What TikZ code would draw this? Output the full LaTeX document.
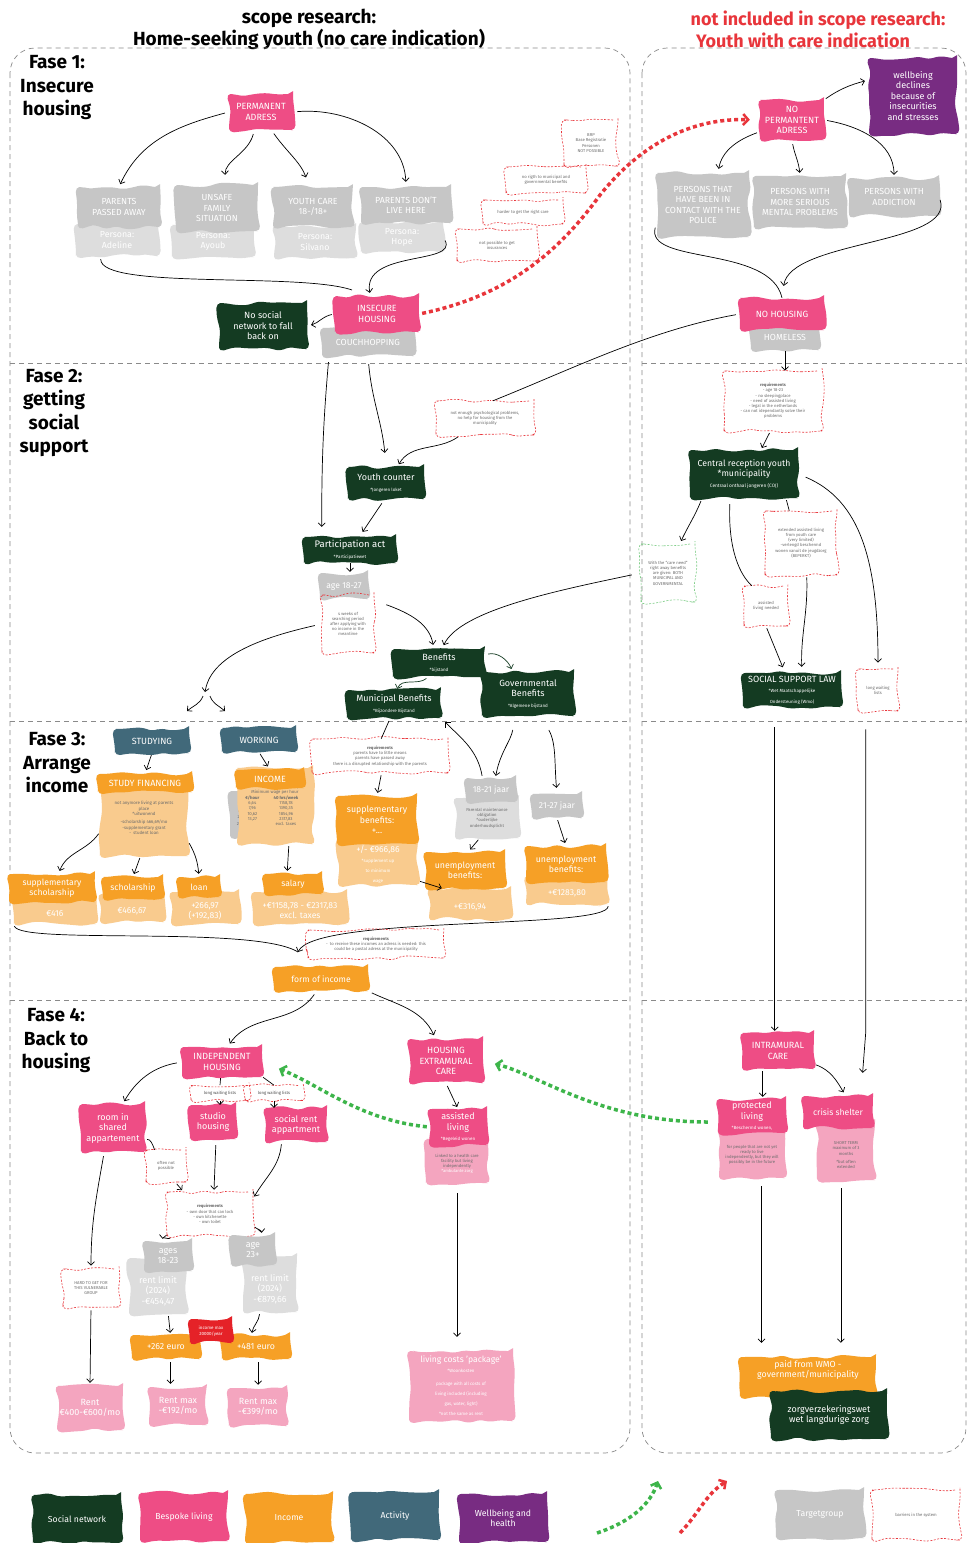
\documentclass[tikz,border=0pt]{standalone}
\usepackage{fontspec}
\setmainfont{Fira Sans}
\usetikzlibrary{arrows.meta,decorations.pathmorphing,calc}
\definecolor{cpink}{HTML}{EE4D85}
\definecolor{clpink}{HTML}{F4A5BF}
\definecolor{cdg}{HTML}{143B22}
\definecolor{corange}{HTML}{F6A026}
\definecolor{clor}{HTML}{F9CB8E}
\definecolor{cteal}{HTML}{41697A}
\definecolor{cpurple}{HTML}{782C82}
\definecolor{cgrey}{HTML}{C6C6C6}
\definecolor{clgrey}{HTML}{DDDDDD}
\definecolor{cred}{HTML}{E8353B}
\definecolor{cgreen}{HTML}{3DB54A}
\definecolor{cbox}{HTML}{8A8A8A}
\definecolor{ctext}{HTML}{6B6B6B}
\definecolor{cincred}{HTML}{E52228}
\newcommand{\fz}[2]{\fontsize{#1}{#2}\selectfont}
\tikzset{
 sz/.style 2 args={minimum width=#1pt, minimum height=#2pt},
 blob/.style={decorate, decoration={random steps,segment length=11pt,amplitude=2.4pt}, rounded corners=5pt, align=center, inner sep=1.5pt, text=white, font=\fz{9}{10.5}},
 pk/.style={blob, fill=cpink},
 lpk/.style={blob, fill=clpink},
 dg/.style={blob, fill=cdg},
 og/.style={blob, fill=corange},
 lo/.style={blob, fill=clor},
 tl/.style={blob, fill=cteal},
 pu/.style={blob, fill=cpurple},
 gr/.style={blob, fill=cgrey},
 lg/.style={blob, fill=clgrey},
 rd/.style={blob, fill=cincred},
 bar/.style={blob, draw=cred, dashed, dash pattern=on 2pt off 1.5pt, line width=0.6pt, text=ctext, font=\fz{4.2}{5.2}},
 gbar/.style={bar, draw=cgreen!70!white},
 arr/.style={-{Straight Barb[length=3.5pt,width=7pt]}, line width=0.7pt, black},
 garr/.style={arr, cdg},
 ln/.style={line width=0.7pt, black},
 reddot/.style={cred, line width=3.5pt, dash pattern=on 4pt off 3pt, -{Straight Barb[length=5pt,width=11pt,line width=2.5pt]}},
 gdot/.style={reddot, cgreen},
 boxl/.style={cbox, dash pattern=on 5pt off 4pt, line width=0.7pt},
 phase/.style={align=center, font=\fz{19}{23.5}\bfseries},
 ttl/.style={font=\fz{19}{22}\bfseries},
 gf/.style={font=\fz{8.8}{10.2}},
 of/.style={font=\fz{8.6}{10}},
 lf/.style={font=\fz{8.7}{10}}
}
\newcommand{\sub}[1]{{\fz{4.5}{5.5}#1}}
\begin{document}
\begin{tikzpicture}[x=1pt,y=-1pt]
\pgfmathsetseed{7}
\useasboundingbox[fill=white] (0,0) rectangle (967,1543);
% titles
\node[ttl] (t1) at (309,18) {scope research:};
\node[ttl] (t2) at (309,39) {Home-seeking youth (no care indication)};
\node[ttl, text=cred, font=\fz{18}{21}\bfseries] (t3) at (818,20) {not included in scope research:};
\node[ttl, text=cred, font=\fz{18}{21}\bfseries] (t4) at (803,40) {Youth with care indication};
% boxes
\draw[boxl, rounded corners=25pt] (10,48) rectangle (630,1453);
\draw[boxl, rounded corners=25pt] (642,48) rectangle (966,1453);
\foreach \y in {363,721,1000} {\draw[boxl] (10,\y) -- (630,\y); \draw[boxl] (642,\y) -- (967,\y);}
% phase labels
\node[phase] (f1) at (57,88) {Fase 1:\\Insecure\\housing};
\node[phase] (f2) at (54,413) {Fase 2:\\getting\\social\\support};
\node[phase] (f3) at (57,763) {Fase 3:\\Arrange\\income};
\node[phase] (f4) at (56,1041) {Fase 4:\\Back to\\housing};
% ===== Fase 1 left
\node[pk, sz={64}{36}] (perm) at (261,112) {PERMANENT\\ADRESS};
\node[lg, gf, sz={82}{32}] (pa) at (117,240) {Persona:\\Adeline};
\node[gr, gf, sz={82}{40}] (ppa) at (119,207) {PARENTS\\PASSED AWAY};
\node[lg, gf, sz={82}{32}] (pb) at (213,241) {Persona:\\Ayoub};
\node[gr, gf, sz={82}{46}] (ufs) at (217,208) {UNSAFE\\FAMILY\\SITUATION};
\node[lg, gf, sz={82}{32}] (pc) at (315,242) {Persona:\\Silvano};
\node[gr, gf, sz={80}{40}] (yc) at (313,207) {YOUTH CARE\\18-/18+};
\node[lg, gf, sz={82}{30}] (pd) at (402,237) {Persona:\\Hope};
\node[gr, gf, sz={90}{36}] (pdl) at (406,205) {PARENTS DON'T\\LIVE HERE};
\draw[arr, shorten <=4pt, shorten >=3pt] (perm.west) to[out=195,in=65] (ppa.north);
\draw[arr, shorten <=4pt, shorten >=10pt] (perm.250) to[out=255,in=92] (ufs.70);
\draw[arr, shorten <=4pt, shorten >=10pt] (perm.300) to[out=-55,in=110] (yc.100);
\draw[arr, shorten <=4pt, shorten >=5pt] (perm.east) to[out=5,in=92] (pdl.north);
\node[gr, gf, sz={92}{28}] (couch) at (368,342) {COUCHHOPPING};
\node[pk, sz={84}{36}] (ins) at (377,314) {INSECURE\\HOUSING};
\node[dg, sz={88}{46}] (nosoc) at (263,326) {No social\\network to fall\\back on};
\draw[arr, shorten <=3pt, shorten >=4pt] (ins.west) to[out=190,in=15] (nosoc.east);
\draw[ln, shorten <=3pt] (pa.225) .. controls (100,290) and (300,272) .. (352,290);
\draw[arr, shorten <=4pt, shorten >=3pt] (pd.east) .. controls (458,265) and (362,250) .. (ins.110);
% barriers
\node[bar, sz={54}{46}] (brp) at (591,143) {BRP\\Base Registratie\\Personen\\NOT POSSIBLE};
\node[bar, sz={80}{26}] (b2) at (546,180) {no rigth to municipal and\\governmental benefits};
\node[bar, sz={80}{24}] (b3) at (523,212) {harder to get the right care};
\node[bar, sz={80}{32}] (b4) at (497,245) {not possible to get\\insurances};
% ===== Fase 1 right
\node[pu, sz={88}{76}] (wb) at (913,96) {wellbeing\\declines\\because of\\insecurities\\and stresses};
\node[pk, sz={64}{40}] (nop) at (792,120) {NO\\PERMANTENT\\ADRESS};
\draw[arr, shorten <=2pt, shorten >=4pt] (nop.north east) to[out=35,in=195] (wb.160);
\node[gr, gf, sz={92}{64}] (pol) at (703,205) {PERSONS THAT\\HAVE BEEN IN\\CONTACT WITH THE\\POLICE};
\node[gr, gf, sz={92}{52}] (men) at (800,202) {PERSONS WITH\\MORE SERIOUS\\MENTAL PROBLEMS};
\node[gr, gf, sz={90}{38}] (add) at (894,197) {PERSONS WITH\\ADDICTION};
\draw[arr, shorten <=3pt, shorten >=4pt] (nop.200) to[out=200,in=80] (pol.65);
\draw[arr, shorten <=4pt, shorten >=3pt] (nop.south) to[out=-80,in=95] (men.north);
\draw[arr, shorten <=3pt, shorten >=3pt] (nop.east) to[out=-10,in=90] (add.north);
\node[gr, gf, sz={68}{26}] (hml) at (785,337) {HOMELESS};
\node[pk, sz={84}{32}] (noh) at (782,314) {NO HOUSING};
\draw[ln, shorten <=6pt] (pol.200) .. controls (645,265) and (770,245) .. (noh.north);
\draw[arr, shorten <=3pt, shorten >=12pt] (add.east) .. controls (955,245) and (790,240) .. (noh.north);
% red dotted arrow
\draw[reddot, shorten <=3pt, shorten >=10pt] (ins.east) .. controls (510,295) and (560,250) .. (600,195) .. controls (640,145) and (690,118) .. (nop.west);
% ===== Fase 2 left
\node[bar, sz={98}{34}] (b5) at (485,418) {not enough psychological problems,\\no help for housing from the\\municipality};
\draw[ln, shorten <=4pt] (noh.west) .. controls (650,330) and (570,370) .. (b5.65);
\node[dg, sz={76}{32}] (ycnt) at (386,483) {Youth counter\\\sub{*Jongeren loket}};
\draw[arr, shorten <=3pt, shorten >=3pt] (b5.215) to[out=215,in=60] (ycnt.55);
\node[dg, sz={92}{26}, font=\fz{9.5}{10.5}] (part) at (350,550) {Participation act\\\sub{*Participatiewet}};
\draw[arr, shorten <=8pt, shorten >=14pt] (couch.south) to[out=-85,in=95] (ycnt.north);
\draw[arr, shorten <=6pt, shorten >=10pt] (couch.200) to[out=-95,in=90] (part.155);
\draw[arr, shorten <=5pt, shorten >=6pt] (ycnt.265) -- (part.55);
\node[gr, of, sz={48}{26}] (age) at (344,586) {age 18-27};
\draw[arr, shorten >=1pt] (part.south) -- (part.south |- age.north);
\node[bar, sz={52}{58}] (b6) at (348,624) {4 weeks of\\searching period\\after applying with\\no income in the\\meantime};
\node[dg, sz={92}{28}] (ben) at (439,663) {Benefits\\\sub{*bijstand}};
\node[dg, sz={94}{28}] (mun) at (394,704) {Municipal Benefits\\\sub{*Bijzondere Bijstand}};
\node[dg, sz={92}{44}] (gov) at (528,694) {Governmental\\Benefits\\\sub{*Algemene bijstand}};
\draw[arr, shorten >=4pt] ($(b6.north east)+(12,10)$) to[out=-20,in=100] (ben.110);
\coordinate (fork) at (205,692);
\coordinate (fl) at (187,711);
\coordinate (fr) at (225,711);
\draw[arr, shorten <=7pt] (b6.west) .. controls (250,640) and (210,660) .. (fork);
\draw[arr] ($(fork)+(-2,4)$) to[out=-110,in=40] (fl);
\draw[arr] ($(fork)+(5,4)$) to[out=-70,in=140] (fr);
\draw[garr, shorten <=3pt, shorten >=3pt] (ben.10) to[out=15,in=110] (gov.125);
\draw[garr, shorten <=2pt, shorten >=1pt] (ben.232) to[out=220,in=70] (mun.78);
% ===== Fase 2 right
\node[bar, sz={98}{60}] (req1) at (773,401) {\textbf{requirements}\\- age 18-23\\- no sleepingplace\\- need of assisted living\\- legal in the netherlands\\- can not idependantly solve their\\problems};
\draw[arr, shorten <=1pt] (hml.south) -- (hml.south |- req1.north);
\node[dg, sz={108}{48}, font=\fz{8.7}{10.2}] (cen) at (744,474) {Central reception youth\\*municipality\\{\fz{4.8}{6.2}Centraal onthaal jongeren (COJ)}};
\draw[arr, shorten <=2pt, shorten >=2pt] (req1.265) -- (cen.55);
\node[gbar, sz={54}{58}] (gc) at (668,573) {With the ``care need''\\right away benefits\\are given: BOTH\\MUNICIPAL AND\\GOVERNMENTAL};
\draw[arr, shorten <=3pt, shorten >=3pt] (cen.210) to[out=-112,in=65] (gc.68);
\draw[arr, shorten <=9pt, shorten >=4pt] (gc.west) .. controls (560,590) and (460,610) .. (ben.78);
\node[bar, sz={44}{40}] (aln) at (766,606) {assisted\\living needed};
\draw[ln, shorten <=6pt] (cen.240) .. controls (728,550) and (740,575) .. (aln.125);
\node[bar, sz={72}{64}] (ext) at (801,543) {extended assisted living\\from youth care\\(very limited)\\-verlengd beschermd\\wonen vanuit de jeugdzorg\\(BEPERKT)};
\draw[ln, shorten <=2pt] (cen.330) -- (ext.110);
\node[bar, sz={40}{42}] (lwl) at (878,690) {long waiting\\lists};
\draw[arr, shorten <=8pt, shorten >=6pt] (cen.east) .. controls (860,500) and (878,560) .. (lwl.north);
\node[dg, sz={98}{34}] (ssl) at (792,690) {SOCIAL SUPPORT LAW\\\sub{*Wet Maatschappelijke}\\\sub{Ondersteuning (Wmo)}};
\draw[arr, shorten <=2pt, shorten >=6pt] (aln.south) -- (ssl.112);
\draw[arr, shorten <=2pt, shorten >=6pt] (ext.-80) to[out=-88,in=92] (ssl.60);
% ===== Fase 3 left
\node[tl, sz={74}{24}] (stud) at (152,741) {STUDYING};
\node[lo, sz={88}{80}, text=ctext, font=\fz{4.4}{5.4}] (sfb) at (144,816) {\\[2pt]not anymore living at parents\\place\\*uitwonend\\[3pt]-scholarship 466,69/mo\\-supplementary grant\\- \ student loan};
\node[og, sz={94}{18}] (sf) at (145,783) {STUDY FINANCING};
\draw[arr, shorten <=2pt, shorten >=4pt] (stud.south) -- (sf.north);
\node[lo, of, sz={82}{28}] (b416) at (55,910) {\\[3pt]€416};
\node[og, of, sz={86}{28}] (ssch) at (52,888) {supplementary\\scholarship};
\node[lo, of, sz={64}{28}] (b466) at (132,908) {\\[2pt]€466,67};
\node[og, of, sz={60}{22}] (sch) at (133,888) {scholarship};
\node[lo, of, sz={68}{32}] (bloan) at (205,908) {\\[3pt]+266,97\\(+192,83)};
\node[og, of, sz={42}{20}] (loan) at (199,887) {loan};
\draw[arr, shorten <=2pt, shorten >=3pt] (sfb.200) to[out=-125,in=70] (ssch.65);
\draw[arr, shorten <=2pt, shorten >=3pt] (sfb.265) -- (sch.north);
\draw[arr, shorten <=2pt, shorten >=3pt] (sfb.330) to[out=-60,in=95] (loan.north);
% Fase 3 mid
\node[tl, sz={74}{24}] (work) at (259,740) {WORKING};
\node[blob, fill=cgrey, sz={20}{46}, text=ctext, font=\fz{4.3}{6.9}] (agecol) at (240,814) {18\\19\\20\\21+};
\node[lo, sz={76}{76}, text=ctext, font=\fz{4.3}{5.3}] (incb) at (275,806) {\begin{tabular}{@{}c@{\hspace{8pt}}c@{}}\multicolumn{2}{r}{(2024)}\\\multicolumn{2}{c}{Minimum wage per hour}\\\textbf{€/hour} & \textbf{40 hrs/week}\\6,64 & 1158,78\\7,96 & 1390,35\\10,62 & 1854,96\\13,27 & 2317,83\\ & excl. taxes\end{tabular}};
\node[og, sz={68}{18}] (inc) at (270,779) {INCOME};
\draw[arr, shorten <=2pt, shorten >=4pt] (work.south) -- (inc.north);
\node[lo, of, sz={94}{32}] (bsal) at (300,908) {\\[2pt]+€1158,78 - €2317,83\\excl. taxes};
\node[og, of, sz={58}{20}] (sal) at (293,884) {salary};
\draw[arr, shorten <=2pt, shorten >=3pt] (incb.290) -- (sal.120);
\node[bar, sz={136}{34}] (req2) at (380,756) {\textbf{requirements}\\parents have to little means\\parents have passed away\\there is a disrupted relationship with the parents};
\draw[ln, shorten <=3pt] (mun.255) -- (req2.86);
\node[lo, of, sz={80}{46}] (supbb) at (378,862) {\\[2pt]+/- €966,86\\\sub{*supplement up}\\\sub{to minimum}\\\sub{wage}};
\node[og, sz={80}{48}, font=\fz{8.8}{10.3}] (supb) at (377,820) {supplementary\\benefits:\\+...};
\draw[arr, shorten <=2pt, shorten >=3pt] (req2.275) -- (supb.north);
\node[lg, sz={64}{40}, text=ctext, font=\fz{4.2}{5.2}] (pmo) at (487,818) {Parental maintenance\\obligation\\*ouderlijke\\onderhoudsplicht};
\node[gr, of, sz={50}{24}] (a1821) at (491,790) {18-21 jaar};
\draw[arr, shorten <=2pt, shorten >=6pt] (a1821.125) to[out=100,in=-45] (mun.south east);
\draw[arr, shorten <=14pt, shorten >=2pt] (gov.240) to[out=-100,in=80] (a1821.70);
\node[gr, of, sz={50}{24}] (a2127) at (557,806) {21-27 jaar};
\draw[arr, shorten <=16pt, shorten >=6pt] (gov.300) to[out=-60,in=95] (a2127.north);
\node[lo, of, sz={82}{30}] (unb1b) at (470,904) {\\[3pt]+€316,94};
\node[og, sz={80}{36}, font=\fz{8.8}{10.3}] (unb1) at (465,870) {unemployment\\benefits:};
\draw[arr, shorten <=2pt, shorten >=3pt] (pmo.250) -- (unb1.80);
\draw[arr, shorten <=2pt, shorten >=2pt] (supbb.-25) -- (unb1b.150);
\node[lo, of, sz={82}{28}] (unb2b) at (567,890) {\\[3pt]+€1283,80};
\node[og, sz={80}{36}, font=\fz{8.8}{10.3}] (unb2) at (566,864) {unemployment\\benefits:};
\draw[arr, shorten <=2pt, shorten >=3pt] (a2127.south) -- (unb2.north);
\coordinate (merge) at (298,952);
\draw[ln, shorten <=2pt] (b416.south west) .. controls (20,945) and (255,925) .. (merge);
\draw[arr, shorten <=2pt] (unb2b.south east) .. controls (608,930) and (315,915) .. (merge);
\node[bar, sz={136}{28}] (req3) at (376,944) {\textbf{requirements}\\- \ to receive these incomes an adress is needed: this\\could be a postal adress at the municipality};
\node[og, of, sz={94}{24}] (foi) at (321,979) {form of income};
% ===== Fase 4 left
\node[pk, sz={80}{30}] (indep) at (222,1062) {INDEPENDENT\\HOUSING};
\node[pk, sz={74}{44}] (hec) at (446,1061) {HOUSING\\EXTRAMURAL\\CARE};
\draw[arr, shorten <=4pt, shorten >=4pt] (foi.250) to[out=-125,in=55] (indep.70);
\draw[arr, shorten <=4pt, shorten >=4pt] (foi.south east) to[out=-25,in=115] (hec.115);
\node[bar, sz={58}{15}, text=black!70] (lw1) at (220,1093) {long waiting lists};
\node[bar, sz={58}{15}, text=black!70] (lw2) at (274,1093) {long waiting lists};
\node[pk, sz={64}{48}] (room) at (113,1128) {room in\\shared\\appartement};
\node[pk, sz={46}{34}] (stu) at (213,1122) {studio\\housing};
\node[pk, sz={62}{34}] (srent) at (296,1125) {social rent\\appartment};
\draw[ln, shorten <=1pt] (indep.265) -- (lw1.north);
\draw[arr] (lw1.south) -- (lw1.south |- stu.north);
\draw[ln, shorten <=1pt] (indep.-20) -- (lw2.north);
\draw[arr] (lw2.south) -- (lw2.south |- srent.north);
\draw[arr, shorten <=5pt, shorten >=3pt] (indep.west) to[out=190,in=60] (room.68);
\node[bar, sz={40}{32}] (onp) at (166,1166) {often not\\possible};
\draw[ln, shorten <=2pt] (room.-20) to[out=10,in=110] (onp.125);
\node[bar, sz={86}{44}] (req4) at (210,1214) {\textbf{requirements}\\- own door that can lock\\- own kitchenette\\- own toilet};
\draw[arr, shorten <=2pt, shorten >=2pt] (onp.-60) -- (req4.140);
\draw[arr, shorten <=6pt, shorten >=2pt] (stu.-80) -- (req4.80);
\draw[arr, shorten <=2pt, shorten >=2pt] (srent.230) to[out=-95,in=60] (req4.20);
\node[lg, sz={58}{56}] (rl1) at (158,1286) {\\[6pt]rent limit\\(2024)\\-€454,47};
\node[gr, sz={48}{30}] (ag1) at (168,1256) {ages\\18-23};
\node[lg, sz={54}{56}] (rl2) at (270,1284) {\\[6pt]rent limit\\(2024)\\-€879,66};
\node[gr, sz={44}{30}] (ag2) at (253,1250) {age\\23+};
\draw[arr, shorten <=2pt, shorten >=2pt] (req4.210) to[out=-120,in=85] (ag1.110);
\draw[arr, shorten <=2pt, shorten >=2pt] (req4.-15) to[out=-45,in=95] (ag2.60);
\node[og, sz={68}{24}, font=\fz{8.8}{10}] (e262) at (166,1347) {+262 euro};
\node[og, sz={68}{24}, font=\fz{8.8}{10}] (e481) at (256,1347) {+481 euro};
\node[rd, sz={42}{24}, font=\fz{4.5}{5.7}] (imax) at (211,1331) {income max\\20000/year};
\draw[arr, shorten <=2pt, shorten >=2pt] (rl1.-70) -- (e262.70);
\draw[arr, shorten <=2pt, shorten >=2pt] (rl2.250) to[out=-95,in=80] (e481.110);
\node[lpk, sz={58}{38}] (r192) at (178,1406) {Rent max\\-€192/mo};
\node[lpk, sz={58}{38}] (r399) at (258,1407) {Rent max\\-€399/mo};
\draw[arr, shorten <=3pt, shorten >=3pt] (e262.-70) -- (e262.-70 |- r192.north);
\draw[arr, shorten <=3pt, shorten >=3pt] (e481.-80) -- (e481.-80 |- r399.north);
\node[bar, sz={56}{38}] (hard) at (91,1288) {HARD TO GET FOR\\THIS VULNERABLE\\GROUP};
\draw[arr, shorten <=4pt, shorten >=3pt] (room.250) to[out=-100,in=90] (hard.north);
\node[lpk, sz={66}{44}] (r400) at (90,1408) {Rent\\€400-€600/mo};
\draw[arr, shorten <=3pt, shorten >=3pt] (hard.south) -- (r400.north);
% Fase 4 mid
\node[lpk, sz={62}{44}, text=ctext, font=\fz{4.2}{5.2}] (alb) at (457,1161) {\\[4pt]Linked to a health care\\facility but living\\independently\\{\color{white}*ambulante zorg}};
\node[pk, sz={58}{36}] (al) at (458,1127) {assisted\\living\\\sub{*Begeleid wonen}};
\draw[arr, shorten <=3pt, shorten >=2pt] (hec.south) -- (al.north);
\node[lpk, sz={104}{70}, of] (lcp) at (461,1386) {living costs 'package'\\\sub{*Woonkosten}\\[3pt]\sub{package with all costs of}\\\sub{living included (including}\\\sub{gas, water, light)}\\\sub{*not the same as rent}};
\draw[arr, shorten <=10pt, shorten >=14pt] (alb.south) -- (alb.south |- lcp.north);
% Fase 4 right
\node[pk, sz={72}{36}] (intra) at (778,1051) {INTRAMURAL\\CARE};
\draw[arr, shorten <=20pt, shorten >=2pt] (ssl.225) -- (ssl.225 |- intra.north);
\draw[arr, shorten <=18pt, shorten >=12pt] (lwl.240) -- (lwl.240 |- intra.north) -- ($(lwl.240 |- intra.north)+(-4,52)$);
\node[lpk, sz={66}{52}, text=ctext, font=\fz{4.2}{5.2}] (plb) at (752,1152) {\\[4pt]for people that are not yet\\ready to live\\independently, but they will\\possibly be in the future};
\node[pk, sz={68}{34}] (pl) at (752,1116) {protected\\living\\\sub{*Beschermd wonen,}};
\node[lpk, sz={58}{58}, text=ctext, font=\fz{4.2}{5.2}] (csb) at (846,1151) {\\[6pt]SHORT TERM\\maximum of 3\\months\\[3pt]*but often\\extended};
\node[pk, sz={70}{32}, of] (cs) at (838,1112) {crisis shelter};
\draw[arr, shorten <=2pt, shorten >=2pt] (intra.230) -- (intra.230 |- pl.north);
\draw[arr, shorten <=2pt, shorten >=4pt] (intra.-20) to[out=-20,in=120] (cs.65);
\node[og, sz={136}{40}, font=\fz{8.8}{10.3}] (wmo) at (808,1377) {paid from WMO -\\government/municipality\\[6pt]};
\node[dg, sz={116}{48}] (zvw) at (829,1415) {zorgverzekeringswet\\wet langdurige zorg};
\draw[arr, shorten <=8pt, shorten >=14pt] (plb.-70) -- (plb.-70 |- wmo.north);
\draw[arr, shorten <=8pt, shorten >=14pt] (csb.-100) -- (csb.-100 |- wmo.north);
% green dotted arrows
\draw[gdot, shorten <=2pt, shorten >=18pt] (al.west) .. controls (360,1120) and (320,1085) .. (indep.east);
\draw[gdot, shorten >=12pt] ($(pl.west)+(-10,6)$) .. controls (600,1122) and (540,1075) .. (hec.east);
% ===== legend
\node[dg, lf, sz={88}{48}] (lg1) at (77,1519) {Social network};
\node[pk, lf, sz={88}{48}] (lg2) at (184,1517) {Bespoke living};
\node[og, lf, sz={88}{48}] (lg3) at (289,1518) {Income};
\node[tl, lf, sz={88}{48}] (lg4) at (395,1516) {Activity};
\node[pu, lf, sz={88}{48}] (lg5) at (503,1518) {Wellbeing and\\health};
\coordinate (lga) at (597,1533);
\coordinate (lgb) at (658,1481);
\coordinate (lgc) at (680,1533);
\coordinate (lgd) at (727,1481);
\draw[gdot] (lga) .. controls (630,1522) and (650,1505) .. (lgb);
\draw[reddot] (lgc) .. controls (700,1512) and (705,1495) .. (lgd);
\node[gr, lf, sz={88}{48}] (lg6) at (820,1514) {Targetgroup};
\node[bar, sz={88}{50}] (lg7) at (916,1515) {barriers in the system};
\end{tikzpicture}
\end{document}
